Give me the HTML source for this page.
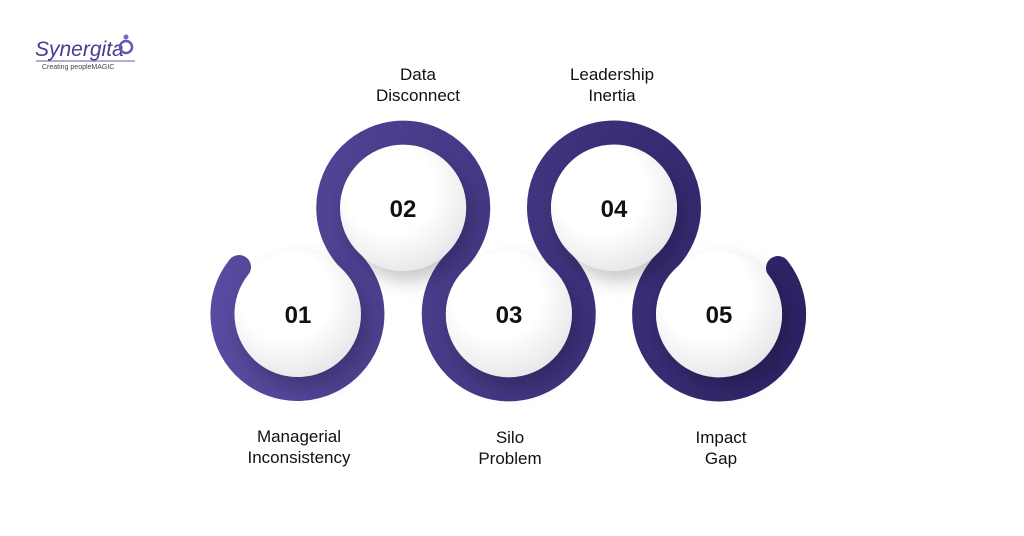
<!DOCTYPE html>
<html><head><meta charset="utf-8"><style>
body{margin:0;background:#fff;}
svg{display:block}
text{font-family:"Liberation Sans",sans-serif}
</style></head><body>
<svg width="1024" height="536" viewBox="0 0 1024 536">
<defs>
<linearGradient id="g" x1="210" y1="0" x2="810" y2="0" gradientUnits="userSpaceOnUse">
<stop offset="0" stop-color="#5a4aa0"/><stop offset="1" stop-color="#2c2163"/>
</linearGradient>
<radialGradient id="w" cx="0.4" cy="0.35" r="0.7">
<stop offset="0.5" stop-color="#ffffff"/><stop offset="1" stop-color="#e6e6e8"/>
</radialGradient>
<filter id="s" x="-50%" y="-50%" width="200%" height="200%">
<feDropShadow dx="6" dy="10" stdDeviation="9" flood-color="#000" flood-opacity="0.22"/>
</filter>
</defs>
<rect width="1024" height="536" fill="#fff"/>
<path d="M239 267 A75 75 0 1 0 350.5 261 A75 75 0 1 1 456 261 A75 75 0 1 0 561.5 261 A75 75 0 1 1 666.5 261 A75 75 0 1 0 778 268" fill="none" stroke="url(#g)" stroke-width="24" stroke-linecap="round"/>
<g filter="url(#s)" fill="url(#w)">
<circle cx="298" cy="314" r="63"/>
<circle cx="403" cy="208" r="63"/>
<circle cx="509" cy="314" r="63"/>
<circle cx="614" cy="208" r="63"/>
<circle cx="719" cy="314" r="63"/>
</g>
<g font-size="24" font-weight="bold" fill="#111" text-anchor="middle">
<text x="298" y="323">01</text><text x="403" y="217">02</text><text x="509" y="323">03</text><text x="614" y="217">04</text><text x="719" y="323">05</text>
</g>
<g font-size="17" fill="#111" text-anchor="middle">
<text x="418" y="80">Data</text><text x="418" y="101">Disconnect</text>
<text x="612" y="80">Leadership</text><text x="612" y="101">Inertia</text>
<text x="299" y="442">Managerial</text><text x="299" y="463">Inconsistency</text>
<text x="510" y="443">Silo</text><text x="510" y="464">Problem</text>
<text x="721" y="443">Impact</text><text x="721" y="464">Gap</text>
</g>
<text x="35" y="56" font-size="21" font-style="italic" fill="#4b3b8f">Synergita</text>
<circle cx="126" cy="47" r="6" fill="none" stroke="#6a55b0" stroke-width="2.5"/>
<circle cx="126" cy="37" r="2.5" fill="#7a65c0"/>
<line x1="36" y1="61" x2="135" y2="61" stroke="#6a55b0" stroke-width="1"/>
<text x="42" y="69" font-size="7" fill="#444">Creating peopleMAGIC</text>
</svg>
</body></html>
